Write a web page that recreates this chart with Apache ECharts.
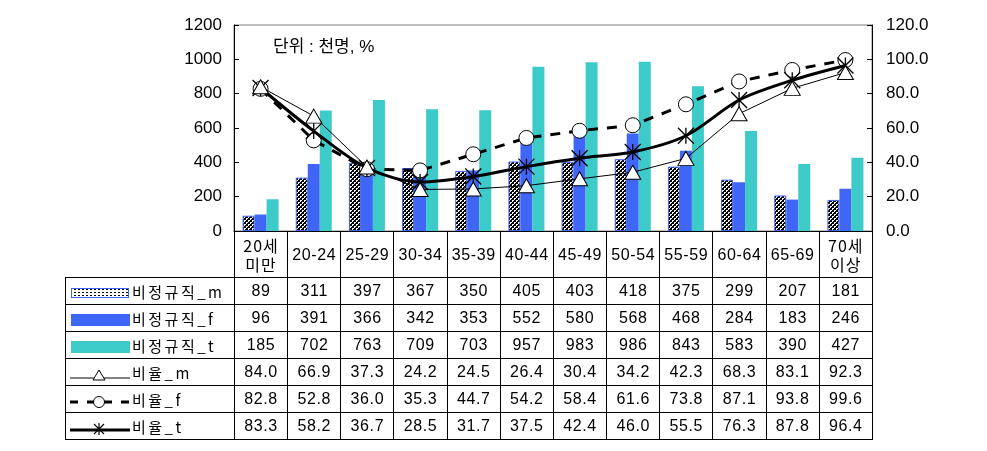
<!DOCTYPE html>
<html>
<head>
<meta charset="utf-8">
<script src="https://cdn.jsdelivr.net/npm/echarts@6/dist/echarts.min.js"></script>
<style>
  body { margin: 0; background: #fff; }
  #wrap { position: relative; width: 987px; height: 451px; overflow: hidden; }
  #chart { position: absolute; left: 0; top: 0; width: 987px; height: 451px; }
  #tbl {
    position: absolute; left: 65px; top: 231px;
    border-collapse: collapse; table-layout: fixed;
    font-family: 'Liberation Sans', Arial, 'Noto Sans CJK KR', sans-serif;
    font-size: 16px; letter-spacing: 0.6px; color: #000;
  }
  #tbl td { border: 1px solid #000; padding: 0; text-align: center; white-space: nowrap; }
  #tbl td.corner { border-top: none; border-left: none; }
  #tbl tr.head td { height: 45px; line-height: 19px; }
  #tbl tr.row td { height: 26px; }
  #tbl td.name { text-align: left; padding-left: 4px; font-family: 'Noto Sans CJK KR', sans-serif; font-size: 15px; letter-spacing: 2.5px; }
  #tbl td.name svg { vertical-align: middle; margin-right: 2px; }
  .kr { font-family: 'Noto Sans CJK KR', sans-serif; }
</style>
</head>
<body>
<div id="wrap">
  <div id="chart"></div>
  <table id="tbl"></table>
</div>
<script>
// 연령 구간
const categories = ['20세\n미만', '20-24', '25-29', '30-34', '35-39', '40-44', '45-49', '50-54', '55-59', '60-64', '65-69', '70세\n이상']
// 비정규직 (천명)
const nonRegM = [89, 311, 397, 367, 350, 405, 403, 418, 375, 299, 207, 181]
const nonRegF = [96, 391, 366, 342, 353, 552, 580, 568, 468, 284, 183, 246]
const nonRegT = [185, 702, 763, 709, 703, 957, 983, 986, 843, 583, 390, 427]
// 비율 (%)
const rateM = [84.0, 66.9, 37.3, 24.2, 24.5, 26.4, 30.4, 34.2, 42.3, 68.3, 83.1, 92.3]
const rateF = [82.8, 52.8, 36.0, 35.3, 44.7, 54.2, 58.4, 61.6, 73.8, 87.1, 93.8, 99.6]
const rateT = [83.3, 58.2, 36.7, 28.5, 31.7, 37.5, 42.4, 46.0, 55.5, 76.3, 87.8, 96.4]
const leftTicks = [0, 1200, 200]
const rightTicks = [0, 120, 20]

const BLUE = '#3F66F6'
const TEAL = '#3CCBC8'

// 점무늬 패턴
const pat = document.createElement('canvas')
pat.width = 4
pat.height = 4
const pctx = pat.getContext('2d')
pctx.fillStyle = '#000'
pctx.fillRect(0, 0, 4, 4)
pctx.fillStyle = '#fff'
pctx.fillRect(0, 0, 2, 1)
pctx.fillRect(0, 1, 1, 1)
pctx.fillRect(2, 2, 2, 1)
pctx.fillRect(2, 3, 1, 1)

const asterisk = 'path://M0,0L16,16M16,0L0,16M8,0L8,16'

const chart = echarts.init(document.getElementById('chart'))
const axisFont = { fontSize: 17, color: '#000', fontFamily: 'Liberation Sans, Arial, sans-serif' }

chart.setOption({
  animation: false,
  title: {
    text: '단위 : 천명, %',
    left: 268, top: 34,
    textStyle: { fontSize: 17, fontWeight: 'normal', color: '#000', fontFamily: "'Liberation Sans', 'Noto Sans CJK KR'" }
  },
  grid: { left: 234, right: 115, top: 25, bottom: 220, show: true, borderColor: '#808080', borderWidth: 1 },
  xAxis: {
    type: 'category',
    data: categories,
    axisLine: { lineStyle: { color: '#000', width: 1 } },
    axisTick: { show: false },
    axisLabel: { show: false }
  },
  yAxis: [
    {
      type: 'value', min: leftTicks[0], max: leftTicks[1], interval: leftTicks[2],
      axisLine: { show: true, lineStyle: { color: '#000' } },
      axisTick: { show: true, inside: true, length: 5, lineStyle: { color: '#000' } },
      splitLine: { show: false },
      axisLabel: { ...axisFont, margin: 12, formatter: v => String(v) }
    },
    {
      type: 'value', min: rightTicks[0], max: rightTicks[1], interval: rightTicks[2], position: 'right',
      axisLine: { show: true, lineStyle: { color: '#000' } },
      axisTick: { show: true, inside: true, length: 5, lineStyle: { color: '#000' } },
      splitLine: { show: false },
      axisLabel: { ...axisFont, margin: 14, formatter: v => v.toFixed(1) }
    }
  ],
  series: [
    {
      name: '비정규직_m', type: 'bar', data: nonRegM, barWidth: 12, barGap: '0%',
      itemStyle: { color: { image: pat, repeat: 'repeat' }, borderColor: BLUE, borderWidth: 1 }
    },
    { name: '비정규직_f', type: 'bar', data: nonRegF, barWidth: 12, barGap: '0%', itemStyle: { color: BLUE } },
    { name: '비정규직_t', type: 'bar', data: nonRegT, barWidth: 12, barGap: '0%', itemStyle: { color: TEAL } },
    {
      name: '비율_f', type: 'line', yAxisIndex: 1, data: rateF, z: 3,
      symbol: 'circle', symbolSize: 15,
      lineStyle: { color: '#000', width: 3, type: [10, 9] },
      itemStyle: { color: '#fff', borderColor: '#000', borderWidth: 1 }
    },
    {
      name: '비율_t', type: 'line', yAxisIndex: 1, data: rateT, z: 4, smooth: 0.3,
      symbol: asterisk, symbolSize: 16,
      lineStyle: { color: '#000', width: 3 },
      itemStyle: { color: 'transparent', borderColor: '#000', borderWidth: 1.3 }
    },
    {
      name: '비율_m', type: 'line', yAxisIndex: 1, data: rateM, z: 5,
      symbol: 'triangle', symbolSize: [16, 14],
      lineStyle: { color: '#000', width: 1 },
      itemStyle: { color: '#fff', borderColor: '#000', borderWidth: 1 }
    }
  ]
})

// 데이터 표
const legendSvg = {
  '비정규직_m': '<svg width="60" height="14"><defs><pattern id="dots" width="4" height="3" patternUnits="userSpaceOnUse"><rect width="4" height="3" fill="#fff"/><rect width="2" height="1" fill="#000"/></pattern></defs><rect x="1.5" y="2.5" width="57" height="9" fill="url(#dots)" stroke="' + BLUE + '" stroke-width="1"/></svg>',
  '비정규직_f': '<svg width="60" height="14"><rect x="1" y="1" width="59" height="12" fill="' + BLUE + '"/></svg>',
  '비정규직_t': '<svg width="60" height="14"><rect x="1" y="1" width="59" height="12" fill="' + TEAL + '"/></svg>',
  '비율_m': '<svg width="60" height="14"><line x1="0" y1="11" x2="60" y2="11" stroke="#000" stroke-width="1"/><polygon points="29,3 35,13 23,13" fill="#fff" stroke="#000" stroke-width="1"/></svg>',
  '비율_f': '<svg width="60" height="14"><line x1="0" y1="8" x2="60" y2="8" stroke="#000" stroke-width="3" stroke-dasharray="8,9"/><circle cx="29" cy="8" r="5.5" fill="#fff" stroke="#000" stroke-width="1"/></svg>',
  '비율_t': '<svg width="60" height="14"><line x1="0" y1="9" x2="60" y2="9" stroke="#000" stroke-width="3"/><path d="M24,3L34,13M34,3L24,13M29,2L29,14" stroke="#000" stroke-width="1.2"/></svg>'
}
const rows = [
  ['비정규직_m', nonRegM, v => String(v)],
  ['비정규직_f', nonRegF, v => String(v)],
  ['비정규직_t', nonRegT, v => String(v)],
  ['비율_m', rateM, v => v.toFixed(1)],
  ['비율_f', rateF, v => v.toFixed(1)],
  ['비율_t', rateT, v => v.toFixed(1)]
]
const colW = (872.3 - 234.3) / categories.length
let html = '<colgroup><col style="width:169px">'
categories.forEach(() => { html += '<col style="width:' + colW.toFixed(2) + 'px">' })
html += '</colgroup><tr class="head"><td class="corner"></td>'
categories.forEach(c => {
  html += '<td' + (c.includes('\n') ? ' class="kr" style="letter-spacing:1px"' : '') + '>' + c.replace('\n', '<br>') + '</td>'
})
html += '</tr>'
rows.forEach(([name, arr, fmt]) => {
  html += '<tr class="row"><td class="name">' + legendSvg[name] + name + '</td>'
  arr.forEach(v => { html += '<td>' + fmt(v) + '</td>' })
  html += '</tr>'
})
document.getElementById('tbl').innerHTML = html
</script>
</body>
</html>
